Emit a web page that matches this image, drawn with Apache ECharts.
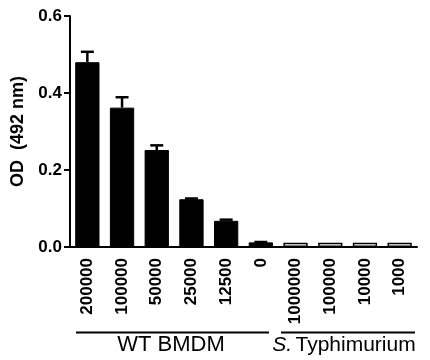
<!DOCTYPE html>
<html><head><meta charset="utf-8">
<script src="https://cdn.jsdelivr.net/npm/echarts@6/dist/echarts.min.js"></script>
<style>html,body{margin:0;padding:0;background:#fff}#c{width:430px;height:360px}</style>
</head><body><div id="c"></div>
<script>
const categories = ['200000','100000','50000','25000','12500','0','1000000','100000','10000','1000'];
const values = [0.480, 0.362, 0.252, 0.124, 0.068, 0.012, 0.011, 0.011, 0.011, 0.011];
const errors = [0.027, 0.027, 0.012, 0.002, 0.003, 0.001, 0, 0, 0, 0];
const filled = [true, true, true, true, true, true, false, false, false, false];
const yTicks = [0.0, 0.2, 0.4, 0.6];
const groupLabels = ['WT BMDM', 'S. Typhimurium'];

const FONT = '"Liberation Sans", Arial, sans-serif';
const chart = echarts.init(document.getElementById('c'));
const barData = values.map((v, i) => ({
  value: v,
  itemStyle: filled[i] ? {color: '#000', borderColor: '#000', borderWidth: 1}
                       : {color: '#fff', borderColor: '#000', borderWidth: 1.5}
}));
chart.setOption({
  animation: false,
  grid: {left: 70, right: 13, top: 16, bottom: 113, containLabel: false},
  xAxis: {
    type: 'category', data: categories,
    axisLine: {lineStyle: {color: '#000', width: 2}},
    axisTick: {alignWithLabel: true, length: 5, lineStyle: {color: '#000', width: 2}},
    axisLabel: {rotate: 90, margin: 11, color: '#000', fontWeight: 'bold', fontSize: 17, fontFamily: FONT, interval: 0}
  },
  yAxis: {
    type: 'value', min: 0, max: 0.6, interval: 0.2,
    name: 'OD  (492 nm)', nameLocation: 'middle', nameGap: 33, nameRotate: 90,
    nameTextStyle: {color: '#000', fontWeight: 'bold', fontSize: 18, fontFamily: FONT},
    splitLine: {show: false},
    axisLine: {show: true, lineStyle: {color: '#000', width: 2}},
    axisTick: {show: true, length: 6, lineStyle: {color: '#000', width: 2}},
    axisLabel: {margin: 8, color: '#000', fontWeight: 'bold', fontSize: 17, fontFamily: FONT,
      formatter: v => v.toFixed(1)}
  },
  series: [
    {type: 'bar', data: barData, barWidth: '70%'},
    {
      type: 'custom',
      data: values.map((v, i) => [i, v, errors[i]]),
      renderItem: function (params, api) {
        const i = api.value(0), v = api.value(1), e = api.value(2);
        if (!e) return null;
        const p0 = api.coord([i, v]);
        const p1 = api.coord([i, v + e]);
        const hw = 6.5;
        return {type: 'group', children: [
          {type: 'line', shape: {x1: p0[0], y1: p0[1], x2: p1[0], y2: p1[1]}, style: {stroke: '#000', lineWidth: 2.5}},
          {type: 'line', shape: {x1: p1[0] - hw, y1: p1[1], x2: p1[0] + hw, y2: p1[1]}, style: {stroke: '#000', lineWidth: 2.5}}
        ]};
      },
      z: 3
    }
  ],
  graphic: [
    {type: 'line', shape: {x1: 76, y1: 332.5, x2: 269, y2: 332.5}, style: {stroke: '#000', lineWidth: 2}},
    {type: 'line', shape: {x1: 281, y1: 332.5, x2: 415, y2: 332.5}, style: {stroke: '#000', lineWidth: 2}},
    {type: 'text', x: 171, y: 345, style: {text: groupLabels[0], x: 0, y: 0, align: 'center', verticalAlign: 'middle', fill: '#000', font: '22px ' + FONT}},
    {type: 'text', x: 344, y: 345, style: {
      text: '{i|S.} {n|Typhimurium}', align: 'center', verticalAlign: 'middle',
      rich: {i: {fontStyle: 'italic', fontSize: 21, fontFamily: FONT, fill: '#000', color: '#000'},
             n: {fontSize: 21, fontFamily: FONT, fill: '#000', color: '#000'}}}}
  ]
});
</script></body></html>
